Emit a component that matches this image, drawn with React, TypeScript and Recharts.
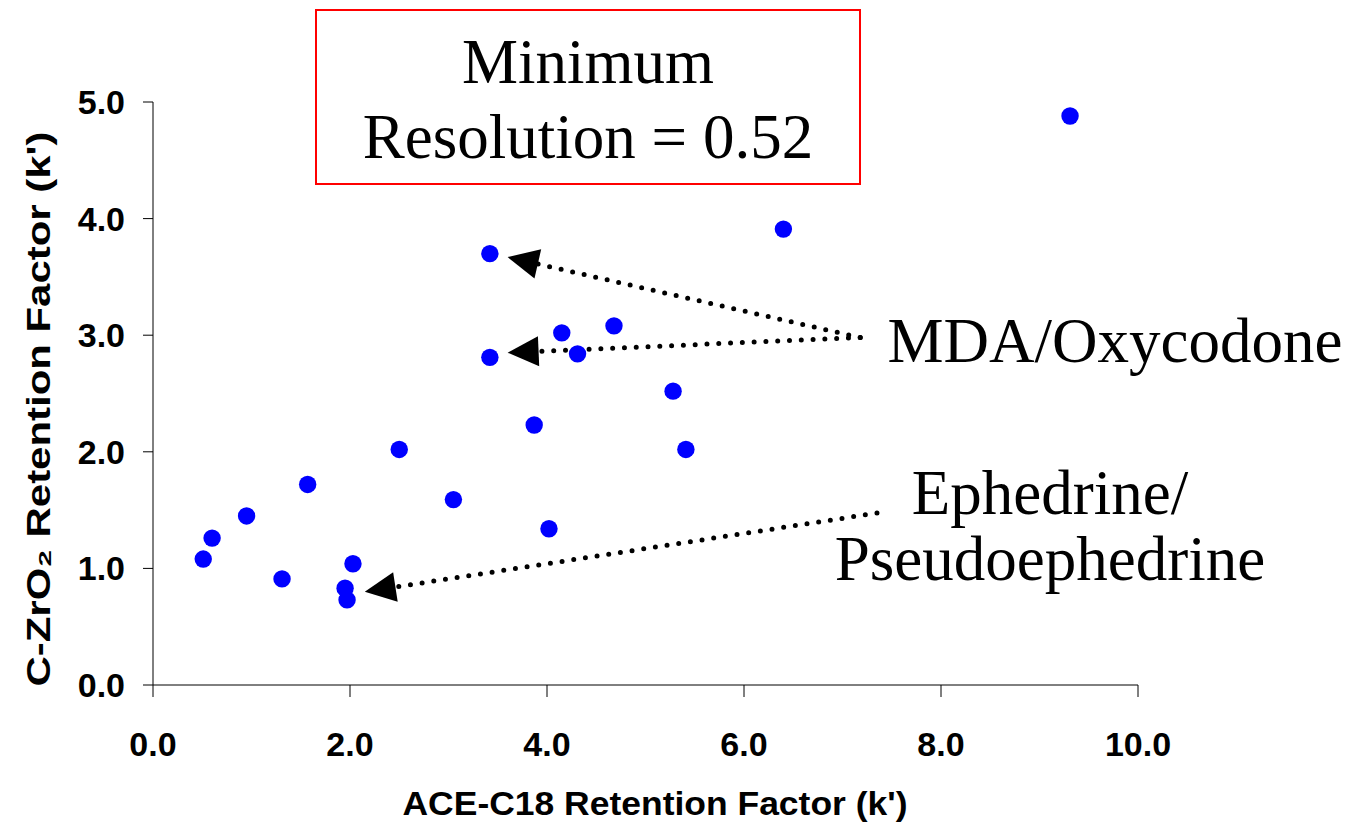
import React from 'react';
import { ScatterChart, Scatter, XAxis, YAxis, ReferenceLine } from 'recharts';

// retention factors
const aceC18 = [9.31, 6.4, 3.42, 4.15, 4.68, 3.42, 4.31, 5.28, 3.87, 5.41, 2.5, 1.57, 3.05, 0.95, 0.6, 4.02, 0.51, 2.03, 1.31, 1.95, 1.97];
const cZrO2 = [4.88, 3.91, 3.7, 3.02, 3.08, 2.81, 2.84, 2.52, 2.23, 2.02, 2.02, 1.72, 1.59, 1.45, 1.26, 1.34, 1.08, 1.04, 0.91, 0.83, 0.73];

const xTicks = [0, 2, 4, 6, 8, 10];
const yTicks = [0, 1, 2, 3, 4, 5];

// arrows: label end -> tip, in data units
const arrowStartX = [7.18, 7.18, 7.35];
const arrowStartY = [2.98, 2.98, 1.475];
const arrowTipX = [3.6, 3.6, 2.15];
const arrowTipY = [3.67, 2.85, 0.8];

const points = aceC18.map((x, i) => ({ x, y: cZrO2[i] }));

const sans = '"Liberation Sans", Arial, sans-serif';
const serif = '"Liberation Serif", "Times New Roman", serif';
const tickStyle = { fill: '#000', fontSize: 34, fontWeight: 'bold', fontFamily: sans };

const Dot = (props: any) => <circle cx={props.cx} cy={props.cy} r={8.7} fill="#0000FF" />;

const Arrow = (props: any) => {
  const { x1, y1, x2, y2 } = props;
  const dx = x2 - x1;
  const dy = y2 - y1;
  const len = Math.sqrt(dx * dx + dy * dy);
  const ux = dx / len;
  const uy = dy / len;
  const headLen = 31;
  const half = 15;
  const bx = x2 - ux * headLen;
  const by = y2 - uy * headLen;
  const pts = `${x2},${y2} ${bx - uy * half},${by + ux * half} ${bx + uy * half},${by - ux * half}`;
  return (
    <g>
      <line x1={x1} y1={y1} x2={bx} y2={by} stroke="#000" strokeWidth={5} strokeLinecap="round" strokeDasharray="0 11.8" />
      <polygon points={pts} fill="#000" />
    </g>
  );
};

export default function App() {
  return (
    <div style={{ position: 'absolute', left: 0, top: 0, width: 1355, height: 823, background: '#fff' }}>
      <ScatterChart width={1355} height={823} margin={{ top: 102, right: 217, bottom: 0, left: 0 }}>
        <XAxis
          type="number"
          dataKey="x"
          domain={[0, 10]}
          ticks={xTicks}
          tickFormatter={(v: number) => v.toFixed(1)}
          height={138}
          tickSize={12}
          tickMargin={35}
          stroke="#000"
          tick={tickStyle}
        />
        <YAxis
          type="number"
          dataKey="y"
          domain={[0, 5]}
          ticks={yTicks}
          tickFormatter={(v: number) => v.toFixed(1)}
          width={153}
          tickSize={10}
          tickMargin={18}
          stroke="#000"
          tick={tickStyle}
        />
        <Scatter data={points} shape={Dot} isAnimationActive={false} />
        {arrowTipX.map((tx, i) => (
          <ReferenceLine
            key={i}
            segment={[
              { x: arrowStartX[i], y: arrowStartY[i] },
              { x: tx, y: arrowTipY[i] },
            ]}
            shape={Arrow}
            ifOverflow="visible"
          />
        ))}
      </ScatterChart>
      <svg width={1355} height={823} style={{ position: 'absolute', left: 0, top: 0, pointerEvents: 'none' }}>
        <rect x={316} y={10} width={544} height={174} fill="none" stroke="#FF0000" strokeWidth={2} />
        <g fontFamily={serif} fontSize={63} fill="#000" textAnchor="middle">
          <text x={588} y={83}>Minimum</text>
          <text x={588} y={158}>Resolution = 0.52</text>
          <text x={1115} y={362}>MDA/Oxycodone</text>
          <text x={1050} y={514}>Ephedrine/</text>
          <text x={1050} y={580}>Pseudoephedrine</text>
        </g>
        <text
          x={655}
          y={815}
          textAnchor="middle"
          fontFamily={sans}
          fontWeight="bold"
          fontSize={34}
          textLength={505}
          lengthAdjust="spacingAndGlyphs"
          fill="#000"
        >
          ACE-C18 Retention Factor (k')
        </text>
        <text
          x={0}
          y={0}
          transform="translate(50,409) rotate(-90)"
          textAnchor="middle"
          fontFamily={sans}
          fontWeight="bold"
          fontSize={34}
          textLength={555}
          lengthAdjust="spacingAndGlyphs"
          fill="#000"
        >
          C-ZrO₂ Retention Factor (k')
        </text>
      </svg>
    </div>
  );
}
